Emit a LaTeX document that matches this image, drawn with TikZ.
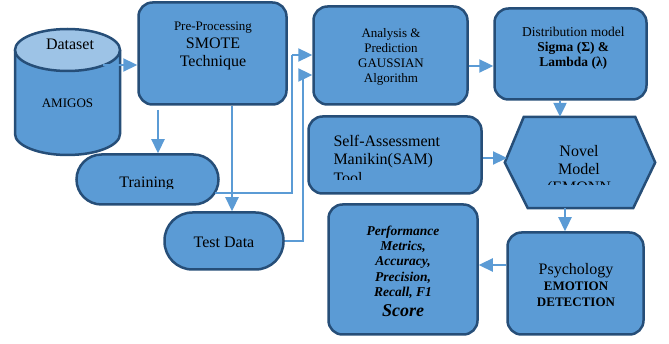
\documentclass[tikz,border=0pt]{standalone}
\usepackage{fontspec}
\setmainfont{Liberation Serif}
\usetikzlibrary{arrows.meta}
\definecolor{boxblue}{RGB}{91,155,213}
\definecolor{boxline}{RGB}{38,78,120}
\definecolor{toplight}{RGB}{157,195,230}
\tikzset{
  block/.style={draw=boxline, fill=boxblue, line width=2.5pt, rounded corners=14pt, inner sep=0pt},
  pill/.style={block, rounded corners=25pt},
  txt/.style={inner sep=0pt},
  flow/.style={draw=boxblue, line width=2.3pt, -{Triangle[length=14pt,width=13pt]}},
  link/.style={draw=boxblue, line width=2.3pt},
}

\begin{document}
\begin{tikzpicture}[x=1pt, y=-1pt]
	\useasboundingbox (0,0) rectangle (669,344);
	% cylindre
	\fill[boxblue] (15,50) -- (15,134) arc[start angle=180, end angle=0, x radius=52.5, y radius=21] -- (120,50) -- cycle;
	\draw[boxline, line width=2.5pt] (15,50) -- (15,134) arc[start angle=180, end angle=0, x radius=52.5, y radius=21] -- (120,50);
	\draw[boxline, fill=toplight, line width=2.5pt] (67.5,50) ellipse[x radius=52.5, y radius=21];
	\node[txt, font=\fontsize{16}{18}\selectfont, anchor=base] (dataset) at (70,49.3) {Dataset};
	\node[txt, font=\fontsize{13}{15}\selectfont, anchor=base] (amigos) at (67.5,107.3) {AMIGOS};
	\coordinate (dsout) at (103,65);
	% boites
	\node[block, minimum width=148pt, minimum height=102pt] (prep) at (212.5,53.5) {};
	\node[txt, align=center, anchor=north, font=\fontsize{16}{18}\selectfont] (preptxt) at (213,21.5) {{\fontsize{13}{15}\selectfont Pre-Processing}\\SMOTE\\Technique};
	\node[pill, minimum width=142pt, minimum height=50pt] (training) at (147.5,179.5) {};
	\node[pill, rounded corners=28pt, minimum width=119pt, minimum height=57pt] (test) at (224,241) {};
	\node[txt, font=\fontsize{16}{18}\selectfont, anchor=base] (testtxt) at (224,247.3) {Test Data};
	\node[block, minimum width=154pt, minimum height=98pt] (ana) at (390.5,55.5) {};
	\node[txt, align=center, anchor=north, font=\fontsize{13}{15}\selectfont] (anatxt) at (391,28.4) {Analysis \&\\Prediction\\GAUSSIAN\\Algorithm};
	\node[block, minimum width=152pt, minimum height=91pt] (dist) at (570.5,54) {};
	\node[txt, align=center, anchor=north, font=\fontsize{13.5}{15}\selectfont] (disttxt) at (573.3,26.8) {Distribution model\\\textbf{Sigma (Σ) \&}\\\textbf{Lambda (λ)}};
	\node[block, minimum width=173pt, minimum height=77pt] (sam) at (395,155) {};
	\node[minimum width=150pt, minimum height=91pt, inner sep=0pt] (novel) at (580,162.5) {};
	\draw[block, rounded corners=0pt] (novel.west) -- ([xshift=19pt]novel.north west) -- ([xshift=-20pt]novel.north east) -- (novel.east) -- ([xshift=-22pt]novel.south east) -- ([xshift=23pt]novel.south west) -- cycle;
	\node[block, minimum width=136pt, minimum height=102pt] (psy) at (575.5,283.5) {};
	\node[txt, align=center, anchor=north, font=\fontsize{13}{16}\selectfont] (psytxt) at (576,263.1) {{\fontsize{16}{16}\selectfont Psychology}\\\textbf{EMOTION}\\\textbf{DETECTION}};
	\node[block, minimum width=149pt, minimum height=130pt] (perf) at (403,269.5) {};
	\node[txt, align=center, anchor=north, font=\fontsize{13.5}{15.2}\selectfont\bfseries\itshape] (perftxt) at (403,225.8) {Performance\\Metrics,\\Accuracy,\\Precision,\\Recall, F1\\[4.5pt]{\fontsize{18}{20}\selectfont Score}};
	% textes coupes
	\begin{scope}
		\clip (training.north west) rectangle (219,188.5);
		\node[txt, font=\fontsize{16}{18}\selectfont, anchor=base] (traintxt) at (146.7,188) {Training};
	\end{scope}
	\begin{scope}
		\clip (sam.north west) rectangle (482,179.5);
		\node[txt, align=left, anchor=north west, font=\fontsize{16}{18.4}\selectfont] (samtxt) at (333.3,134.8) {Self-Assessment\\Manikin(SAM)\\Tool};
	\end{scope}
	\begin{scope}
		\clip (novel.north west) rectangle (655,185);
		\node[txt, align=center, anchor=north, font=\fontsize{16}{18.3}\selectfont] (noveltxt) at (579,144.8) {Novel\\Model\\(EMONN};
	\end{scope}
	% fleches
	\coordinate (trout) at (215,193);
	\coordinate (samin) at (507,158);
	\draw[flow] (dsout) -- (dsout -| prep.west);
	\draw[flow] (158,110) -- (158,110 |- training.north);
	\draw[flow] (232,110 |- prep.south) -- (232,110 |- test.north);
	\draw[link] (trout) -- (292,193) -- (292,55);
	\draw[flow] (292,55) -- (292,55 -| ana.west);
	\draw[link] (test.east) -- (303,241) -- (303,75);
	\draw[flow] (303,75) -- (303,75 -| ana.west);
	\draw[flow] (ana.east |- 0,66) -- (dist.west |- 0,66);
	\draw[flow] ([xshift=-10.5pt]dist.south) -- ([xshift=-10.5pt]dist.south |- novel.north);
	\draw[flow] (sam.east |- samin) -- (samin);
	\draw[flow] ([xshift=-10.5pt]psy.north |- novel.south) -- ([xshift=-10.5pt]psy.north);
	\draw[flow] (psy.west |- 0,265) -- (perf.east |- 0,265);
\end{tikzpicture}
\end{document}
